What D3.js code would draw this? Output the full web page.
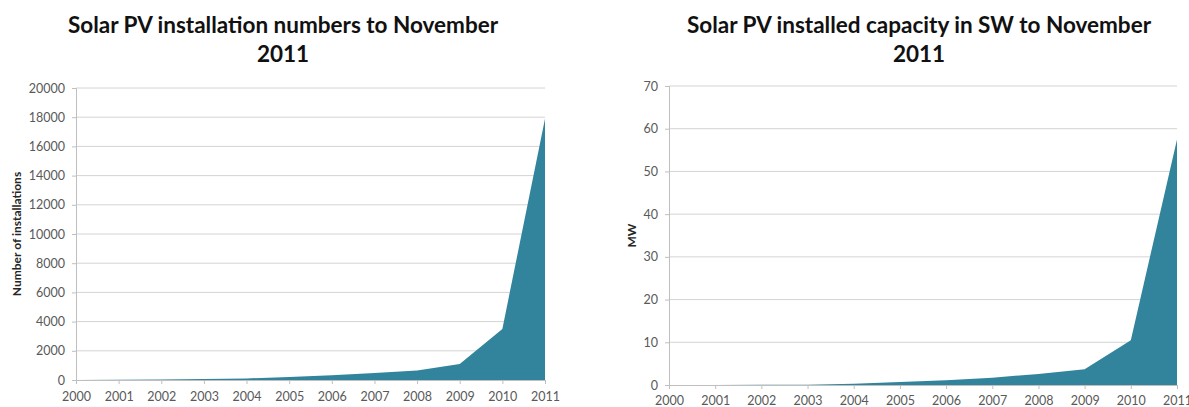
<!DOCTYPE html>
<html>
<head>
<meta charset="utf-8">
<script src="https://cdn.jsdelivr.net/npm/d3@7"></script>
<style>
  body { margin: 0; background: #fff; }
  text { font-family: Lato, "Open Sans", sans-serif; }
</style>
</head>
<body>
<svg id="chart" width="1189" height="407"></svg>
<script>
// Data
var years = [2000, 2001, 2002, 2003, 2004, 2005, 2006, 2007, 2008, 2009, 2010, 2011];
var installations = [0, 10, 30, 60, 110, 200, 330, 480, 650, 1100, 3500, 17900];
var capacityMW = [0, 0.02, 0.03, 0.06, 0.3, 0.7, 1.1, 1.7, 2.6, 3.7, 10.5, 57.5];
var installTicks = [0, 2000, 4000, 6000, 8000, 10000, 12000, 14000, 16000, 18000, 20000];
var capacityTicks = [0, 10, 20, 30, 40, 50, 60, 70];

var svg = d3.select('#chart');
var fillColor = '#31849b';

function drawChart(opt) {
    var x = d3.scaleLinear().domain([2000, 2011]).range([opt.left, opt.right]);
    var y = d3.scaleLinear().domain([0, opt.max]).range([opt.bottom, opt.top]);

    var g = svg.append('g');

    // Gridlines
    g.selectAll('.grid')
        .data(opt.ticks.slice(1))
        .enter()
        .append('line')
        .attr('x1', opt.left)
        .attr('x2', opt.right)
        .attr('y1', function (d) { return y(d); })
        .attr('y2', function (d) { return y(d); })
        .style('stroke', '#d4d4d4')
        .style('stroke-width', 1);

    // Area
    var area = d3.area()
        .x(function (d, i) { return x(years[i]); })
        .y0(y(0))
        .y1(function (d) { return y(d); });

    g.append('path')
        .datum(opt.values)
        .attr('d', area)
        .style('fill', fillColor);

    // Y axis
    var yAxis = g.append('g')
        .attr('transform', 'translate(' + opt.left + ',0)')
        .call(d3.axisLeft(y).tickValues(opt.ticks).tickSize(4).tickPadding(7).tickFormat(d3.format('d')));

    // X axis
    var xAxis = g.append('g')
        .attr('transform', 'translate(0,' + opt.bottom + ')')
        .call(d3.axisBottom(x).tickValues(years).tickSize(4).tickPadding(opt.xPad).tickFormat(d3.format('d')));

    [yAxis, xAxis].forEach(function (a) {
        a.select('.domain').style('stroke', '#bfbfbf');
        a.selectAll('.tick line').style('stroke', '#bfbfbf');
        a.selectAll('.tick text')
            .style('font-family', 'Lato, sans-serif')
            .style('font-size', '12.5px')
            .style('fill', '#595959');
    });

    // Axis title
    svg.append('text')
        .attr('transform', 'translate(' + opt.titleX + ',' + ((opt.top + opt.bottom) / 2) + ') rotate(-90)')
        .attr('text-anchor', 'middle')
        .style('font-size', '12px')
        .style('font-weight', 'bold')
        .style('fill', '#262626')
        .text(opt.yTitle);

    // Chart title
    var t = svg.append('text')
        .attr('text-anchor', 'middle')
        .style('font-size', '22.5px')
        .style('font-weight', 'bold')
        .style('fill', '#111');
    t.append('tspan').attr('x', opt.titleCx).attr('y', 33).text(opt.title[0]);
    t.append('tspan').attr('x', opt.titleCx).attr('y', 62).text(opt.title[1]);
}

drawChart({
    left: 76, right: 545, top: 88, bottom: 380,
    max: 20000, ticks: installTicks, values: installations,
    yTitle: 'Number of installations', titleX: 21, xPad: 8,
    title: ['Solar PV installation numbers to November', '2011'], titleCx: 283
});

drawChart({
    left: 669, right: 1177, top: 86, bottom: 385,
    max: 70, ticks: capacityTicks, values: capacityMW,
    yTitle: 'MW', titleX: 636, xPad: 7,
    title: ['Solar PV installed capacity in SW to November', '2011'], titleCx: 919
});
</script>
</body>
</html>
